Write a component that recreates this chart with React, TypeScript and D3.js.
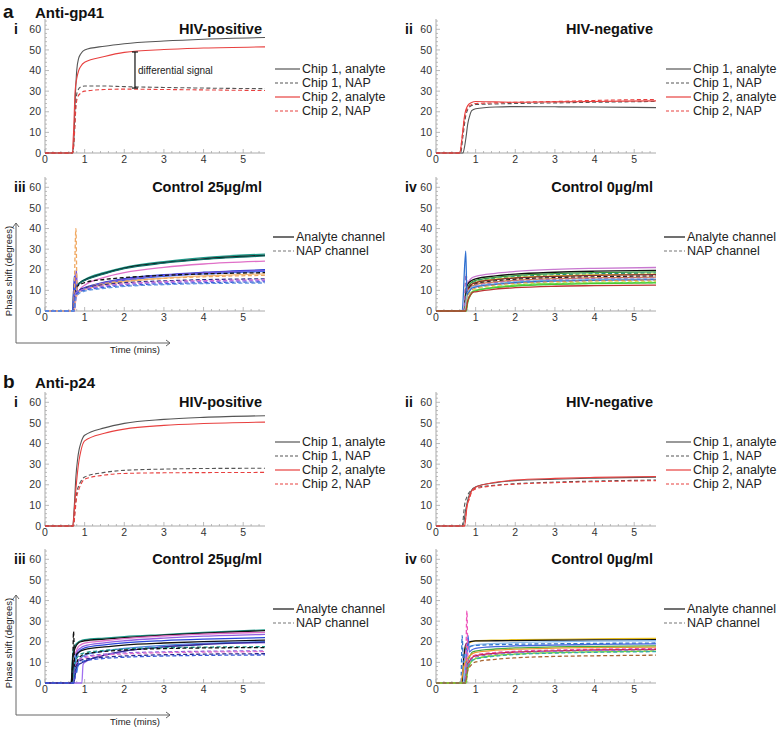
import React from "react";
import * as d3 from "d3";

type Pt = [number, number];
type Ser = [string, number, Pt[], number[]];

// shared time grid for the tail of each curve (minutes)
const TAIL_T = [1, 1.5, 2, 3, 4, 5.55];
const X_TICKS = [0, 1, 2, 3, 4, 5];
const Y_TICKS = [0, 10, 20, 30, 40, 50, 60];
const X_MAX = 5.55;
const Y_MAX = 65;

const GRAY = "#555555";
const RED = "#e8403f";

const HIV_LEGEND = ["Chip 1, analyte", "Chip 1, NAP", "Chip 2, analyte", "Chip 2, NAP"];
const HIV_LEGEND_COLORS = [GRAY, GRAY, RED, RED];
const HIV_LEGEND_DASH = [0, 1, 0, 1];
const CTRL_LEGEND = ["Analyte channel", "NAP channel"];
const CTRL_LEGEND_COLORS = ["#111111", "#777777"];
const CTRL_LEGEND_DASH = [0, 1];

// a-i  Anti-gp41, HIV-positive
const aPos: Ser[] = [
  [GRAY, 0, [[0.68, 0], [0.72, 3], [0.76, 25], [0.8, 40], [0.85, 46], [0.9, 48]], [50, 51.8, 53, 54.3, 55.2, 56]],
  [GRAY, 1, [[0.7, 0], [0.74, 10], [0.78, 25], [0.82, 30], [0.9, 32]], [32.5, 32.5, 32.2, 31.8, 31.5, 31.2]],
  [RED, 0, [[0.68, 0], [0.72, 10], [0.76, 30], [0.8, 36], [0.85, 40], [0.9, 42]], [44, 46.8, 48.8, 50.2, 50.9, 51.5]],
  [RED, 1, [[0.7, 0], [0.74, 8], [0.78, 22], [0.82, 27], [0.9, 29]], [30, 30.8, 31, 30.8, 30.6, 30.3]],
];
// differential signal marker: time, lower, upper
const DIFF_MARK = [2.27, 31.5, 49];

// a-ii  Anti-gp41, HIV-negative
const aNeg: Ser[] = [
  [GRAY, 0, [[0.68, 0], [0.72, 3], [0.76, 8], [0.8, 14], [0.85, 18], [0.9, 20.5]], [21.5, 22.3, 22.5, 22.4, 22.3, 22]],
  [GRAY, 1, [[0.62, 0], [0.68, 8], [0.75, 18], [0.8, 21], [0.9, 23]], [23.5, 23.8, 24, 24.3, 24.6, 25]],
  [RED, 0, [[0.6, 0], [0.65, 6], [0.72, 18], [0.8, 23], [0.9, 24.5]], [25, 24.8, 24.6, 24.8, 25, 25.3]],
  [RED, 1, [[0.6, 0], [0.66, 8], [0.72, 17], [0.8, 22], [0.9, 23.5]], [24, 24.3, 24.6, 25, 25.5, 26]],
];

// a-iii  Anti-gp41, Control 25 µg/ml
const aC25: Ser[] = [
  ["#1d9a8a", 0, [[0.72, 0], [0.76, 9], [0.8, 12], [0.9, 14]], [15.3, 18.7, 21.2, 24, 25.9, 27.6]],
  ["#111111", 0, [[0.7, 0], [0.73, 13], [0.77, 11], [0.85, 13], [0.9, 14]], [15, 18.3, 20.8, 23.5, 25.3, 27]],
  ["#0b6e66", 0, [[0.71, 0], [0.75, 10], [0.8, 12.5], [0.9, 13.8]], [14.8, 18, 20.5, 23.2, 25, 26.7]],
  ["#e070c8", 0, [[0.74, 0], [0.78, 6], [0.84, 9], [0.9, 11]], [12.5, 16.3, 18.6, 21.2, 22.8, 24.2]],
  ["#2a3fd0", 0, [[0.7, 0], [0.74, 17], [0.77, 9], [0.85, 9.5], [0.9, 10.5]], [11.3, 14, 15.7, 17.6, 18.8, 20]],
  ["#7b52d8", 0, [[0.72, 0], [0.79, 20], [0.82, 9], [0.9, 10.5]], [11, 13.7, 15.3, 17.3, 18.5, 19.6]],
  ["#4a66e6", 0, [[0.7, 0], [0.74, 12], [0.8, 9], [0.9, 10]], [10.8, 13.2, 14.8, 16.8, 18, 19.2]],
  ["#f0b878", 0, [[0.73, 0], [0.78, 7], [0.85, 9], [0.9, 10]], [10.5, 12.8, 14.2, 15.9, 17, 18]],
  ["#111111", 1, [[0.72, 0], [0.76, 10], [0.82, 12], [0.9, 13]], [13.8, 15.3, 16.2, 17.3, 18, 18.6]],
  ["#f0a860", 1, [[0.72, 0], [0.78, 40], [0.81, 8], [0.9, 9.5]], [11, 13.3, 14.5, 15.8, 16.6, 17.3]],
  ["#2d2d90", 1, [[0.72, 0], [0.77, 9], [0.85, 10], [0.9, 10.5]], [11.2, 12.8, 13.7, 14.6, 15.2, 15.6]],
  ["#e070c8", 1, [[0.74, 0], [0.79, 8], [0.85, 9], [0.9, 9.8]], [10.5, 12.2, 13.2, 14.2, 14.7, 15.1]],
  ["#9b6ee8", 1, [[0.72, 0], [0.78, 9], [0.85, 9.5], [0.9, 10]], [10.5, 12, 12.9, 13.8, 14.3, 14.7]],
  ["#3a5ad8", 1, [[0.73, 0], [0.78, 8], [0.85, 9], [0.9, 9.5]], [10, 11.5, 12.3, 13.2, 13.7, 14.1]],
  ["#5f95e0", 1, [[0.73, 0], [0.79, 7], [0.86, 8.5], [0.9, 9]], [9.6, 11, 11.9, 12.8, 13.3, 13.6]],
];

// a-iv  Anti-gp41, Control 0 µg/ml
const aC0: Ser[] = [
  ["#c878d0", 0, [[0.72, 0], [0.78, 12], [0.85, 15], [0.9, 16]], [16.8, 18.3, 19.2, 20.2, 20.7, 21.1]],
  ["#111111", 0, [[0.7, 0], [0.76, 11], [0.82, 13.5], [0.9, 14.8]], [15.6, 17, 17.9, 18.8, 19.3, 19.7]],
  ["#3a9a3a", 0, [[0.72, 0], [0.78, 10], [0.85, 13], [0.9, 14]], [14.8, 16.3, 17.2, 18.1, 18.6, 19]],
  ["#1e8a80", 1, [[0.72, 0], [0.78, 9], [0.85, 12.5], [0.9, 13.5]], [14.3, 15.8, 16.6, 17.5, 18, 18.4]],
  ["#dddd33", 0, [[0.73, 0], [0.79, 9], [0.86, 12], [0.9, 13]], [13.9, 15.4, 16.2, 17, 17.5, 17.9]],
  ["#8b2a2a", 0, [[0.72, 0], [0.78, 9], [0.85, 12], [0.9, 13]], [13.8, 15.2, 16, 16.8, 17.3, 17.6]],
  ["#222222", 1, [[0.72, 0], [0.78, 9], [0.85, 11.5], [0.9, 12.5]], [13.2, 14.6, 15.4, 16.2, 16.6, 17]],
  ["#d07a4a", 0, [[0.73, 0], [0.79, 8], [0.86, 11], [0.9, 12]], [12.8, 14.1, 14.9, 15.7, 16.1, 16.4]],
  ["#b060b0", 1, [[0.7, 0], [0.76, 18], [0.8, 8], [0.88, 11], [0.92, 12]], [12.4, 13.7, 14.5, 15.3, 15.7, 16]],
  ["#88c0e8", 0, [[0.72, 0], [0.78, 8], [0.86, 10.5], [0.9, 11.5]], [12, 13.3, 14.1, 14.9, 15.3, 15.6]],
  ["#2e6fd0", 0, [[0.66, 0], [0.75, 29], [0.78, 8], [0.86, 10], [0.9, 11]], [11.6, 12.9, 13.7, 14.5, 14.9, 15.2]],
  ["#cc8866", 1, [[0.74, 0], [0.8, 7], [0.88, 9.5], [0.92, 10.5]], [11, 12.6, 13.4, 14.2, 14.6, 15]],
  ["#e8e060", 1, [[0.74, 0], [0.8, 6], [0.88, 9], [0.92, 10]], [10.6, 12, 12.8, 13.6, 14, 14.3]],
  ["#66dd44", 0, [[0.76, 0], [0.8, 5], [0.88, 8.5], [0.92, 9.5]], [10, 11.6, 12.5, 13.3, 13.6, 13.9]],
  ["#99ddaa", 1, [[0.74, 0], [0.8, 6], [0.88, 8.5], [0.92, 9.5]], [10, 11.4, 12.2, 13, 13.4, 13.7]],
  ["#44cc33", 0, [[0.76, 0], [0.8, 4], [0.88, 8], [0.92, 9]], [9.8, 11.3, 12.1, 12.9, 13.3, 13.6]],
  ["#bb3333", 0, [[0.75, 0], [0.8, 5], [0.88, 8], [0.92, 9]], [9.3, 10.6, 11.3, 12, 12.3, 12.6]],
];

// b-i  Anti-p24, HIV-positive
const bPos: Ser[] = [
  [GRAY, 0, [[0.7, 0], [0.74, 10], [0.78, 24], [0.82, 32], [0.86, 37], [0.9, 40]], [44, 47.6, 49.8, 51.7, 52.7, 53.5]],
  [GRAY, 1, [[0.72, 0], [0.76, 9], [0.8, 16], [0.85, 19.5], [0.9, 21.5]], [23.8, 26, 27, 27.6, 27.9, 28]],
  [RED, 0, [[0.7, 0], [0.74, 8], [0.78, 18], [0.82, 26], [0.86, 32], [0.9, 36]], [41.3, 45, 47, 48.8, 49.7, 50.4]],
  [RED, 1, [[0.72, 0], [0.76, 7], [0.8, 14], [0.85, 17.5], [0.9, 20]], [22.7, 24.7, 25.5, 25.8, 25.9, 26]],
];

// b-ii  Anti-p24, HIV-negative
const bNeg: Ser[] = [
  [GRAY, 0, [[0.68, 0], [0.75, 8], [0.82, 14], [0.9, 17.5]], [19, 21, 22, 22.7, 23.2, 23.7]],
  [GRAY, 1, [[0.66, 0], [0.72, 10], [0.8, 15], [0.9, 17.5]], [18.5, 19.8, 20.5, 21.3, 21.8, 22.3]],
  [RED, 0, [[0.72, 0], [0.78, 9], [0.84, 14], [0.9, 17]], [18.8, 21.2, 22.3, 23.1, 23.6, 24]],
  [RED, 1, [[0.72, 0], [0.78, 10], [0.84, 13], [0.9, 16.5]], [18, 19.6, 20.3, 21, 21.5, 22]],
];

// b-iii  Anti-p24, Control 25 µg/ml
const bC25: Ser[] = [
  ["#1d9a8a", 0, [[0.66, 0], [0.7, 14], [0.75, 18], [0.85, 20], [0.9, 20.5]], [21, 21.8, 22.5, 23.5, 24.5, 25.8]],
  ["#111111", 0, [[0.66, 0], [0.7, 12], [0.76, 17], [0.85, 19.5], [0.9, 20]], [20.5, 21.3, 22, 23.2, 24.2, 25.4]],
  ["#e070c8", 0, [[0.7, 0], [0.75, 12], [0.82, 17], [0.9, 18.5]], [19.3, 20.5, 21.5, 22.8, 23.7, 24.6]],
  ["#9060e0", 0, [[0.7, 0], [0.76, 12], [0.84, 16], [0.9, 17]], [18, 19.5, 20.5, 21.8, 22.7, 23.6]],
  ["#2a45d8", 0, [[0.72, 0], [0.78, 12], [0.84, 14.5], [0.9, 16]], [17, 18.5, 19.5, 20.6, 21.3, 22]],
  ["#111111", 0, [[0.68, 0], [0.73, 10], [0.8, 14], [0.9, 15.5]], [16.2, 17.5, 18.4, 19.4, 20.1, 20.8]],
  ["#4a88e0", 0, [[0.72, 0], [0.76, 14], [0.8, 5], [0.84, 10], [0.9, 12]], [13.5, 15.5, 16.8, 18.3, 19.2, 20]],
  ["#a070f0", 0, [[0.93, 0], [0.96, 9]], [10, 13.5, 15.5, 17.5, 18.8, 19.5]],
  ["#2a2a90", 0, [[0.72, 0], [0.8, 8], [0.85, 9], [0.9, 9.5]], [10.5, 13.5, 15.5, 17.5, 18.7, 19.8]],
  ["#1d9a8a", 1, [[0.7, 0], [0.76, 10], [0.84, 13], [0.9, 14]], [14.6, 15.8, 16.5, 17.1, 17.4, 17.6]],
  ["#111111", 1, [[0.66, 0], [0.7, 10], [0.72, 25], [0.75, 8], [0.85, 12], [0.9, 13]], [14, 15.3, 16, 16.7, 17, 17.2]],
  ["#9060e0", 1, [[0.72, 0], [0.78, 9], [0.85, 11], [0.9, 12]], [12.8, 14, 14.6, 15.1, 15.4, 15.6]],
  ["#e070c8", 1, [[0.72, 0], [0.78, 8], [0.85, 10.5], [0.9, 11.5]], [12.3, 13.5, 14.1, 14.7, 15, 15.2]],
  ["#2a2a90", 1, [[0.72, 0], [0.78, 8], [0.85, 10], [0.9, 11]], [11.5, 12.5, 13.1, 13.7, 14, 14.2]],
  ["#3a5ad8", 1, [[0.72, 0], [0.8, 7], [0.86, 9], [0.9, 10]], [10.8, 11.9, 12.5, 13.1, 13.4, 13.6]],
];

// b-iv  Anti-p24, Control 0 µg/ml
const bC0: Ser[] = [
  ["#e8c020", 0, [[0.66, 0], [0.72, 14], [0.8, 19], [0.9, 20]], [20.4, 20.8, 21, 21.2, 21.4, 21.6]],
  ["#111111", 0, [[0.66, 0], [0.7, 12], [0.76, 19], [0.85, 20], [0.9, 20.2]], [20.4, 20.5, 20.6, 20.8, 20.9, 21]],
  ["#88bbee", 0, [[0.68, 0], [0.74, 12], [0.82, 17], [0.9, 18]], [18.5, 19.2, 19.6, 20, 20.3, 20.5]],
  ["#3377cc", 1, [[0.63, 0], [0.66, 23], [0.69, 10], [0.75, 16], [0.85, 17.5], [0.9, 18]], [18.2, 18.6, 18.8, 19, 19.2, 19.4]],
  ["#4466dd", 0, [[0.7, 0], [0.78, 14], [0.81, 23], [0.84, 15], [0.9, 16]], [16.8, 17.6, 18, 18.4, 18.7, 19]],
  ["#44aa44", 0, [[0.72, 0], [0.8, 10], [0.88, 14], [0.92, 15]], [15.5, 16.5, 17, 17.5, 17.8, 18]],
  ["#e89a30", 0, [[0.62, 0], [0.7, 8], [0.8, 12], [0.9, 14]], [14.8, 15.9, 16.4, 16.9, 17.2, 17.4]],
  ["#ee55bb", 1, [[0.74, 0], [0.78, 35], [0.81, 8], [0.88, 12], [0.92, 13]], [13.6, 14.8, 15.4, 16, 16.4, 16.7]],
  ["#cc2244", 0, [[0.74, 0], [0.8, 8], [0.88, 11.5], [0.92, 12.5]], [13.2, 14.4, 15, 15.6, 16, 16.3]],
  ["#9966cc", 1, [[0.74, 0], [0.8, 8], [0.88, 11], [0.92, 12]], [12.6, 13.9, 14.6, 15.3, 15.7, 16]],
  ["#77dd33", 0, [[0.76, 0], [0.8, 6], [0.88, 10], [0.92, 11]], [11.8, 13.3, 14, 14.7, 15.1, 15.5]],
  ["#33aaaa", 1, [[0.74, 0], [0.8, 7], [0.88, 10], [0.92, 11]], [11.6, 13, 13.8, 14.5, 14.9, 15.2]],
  ["#aa6633", 1, [[0.74, 0], [0.8, 6], [0.88, 8.5], [0.92, 9.5]], [10.2, 11.5, 12.2, 12.9, 13.2, 13.5]],
];

const W = 220;
const H = 134;
const FONT = "'Liberation Sans', Arial, Helvetica, sans-serif";

const xs = d3.scaleLinear().domain([0, X_MAX]).range([0, W]);
const ys = d3.scaleLinear().domain([0, Y_MAX]).range([0, -H]);

const lineGen = d3
  .line<Pt>()
  .x((d) => xs(d[0]))
  .y((d) => ys(d[1]))
  .curve(d3.curveMonotoneX);

function seriesPoints(s: Ser): Pt[] {
  const tail: Pt[] = TAIL_T.map((t, i) => [t, s[3][i]] as Pt);
  return [[0, 0] as Pt, ...s[2], ...tail];
}

function Axes() {
  const yMinor = d3.range(0, Y_MAX + 0.01, 2);
  const xMinor = d3.range(0, X_MAX, 0.2);
  return (
    <g>
      <line x1={0} y1={0} x2={0} y2={-H} stroke="#aaaaaa" strokeWidth={1} />
      <line x1={0} y1={0} x2={W} y2={0} stroke="#aaaaaa" strokeWidth={1} />
      {yMinor.map((v) => (
        <line key={"ym" + v} x1={0} x2={v % 10 === 0 ? 4 : 2} y1={ys(v)} y2={ys(v)} stroke="#aaaaaa" strokeWidth={0.8} />
      ))}
      {xMinor.map((v, i) => (
        <line key={"xm" + i} y1={0} y2={i % 5 === 0 ? -4 : -2} x1={xs(v)} x2={xs(v)} stroke="#aaaaaa" strokeWidth={0.8} />
      ))}
      {Y_TICKS.map((v) => (
        <text key={"yl" + v} x={-4} y={ys(v) + 3.7} textAnchor="end" fontSize={10.5} fill="#333" fontFamily={FONT}>
          {v}
        </text>
      ))}
      {X_TICKS.map((v) => (
        <text key={"xl" + v} x={xs(v)} y={10} textAnchor="middle" fontSize={10.5} fill="#333" fontFamily={FONT}>
          {v}
        </text>
      ))}
    </g>
  );
}

function Panel(props: {
  x0: number;
  base: number;
  series: Ser[];
  title: string;
  roman: string;
  ctrl: boolean;
  diff?: boolean;
}) {
  const { x0, base, series, title, roman, ctrl, diff } = props;
  const labels = ctrl ? CTRL_LEGEND : HIV_LEGEND;
  const colors = ctrl ? CTRL_LEGEND_COLORS : HIV_LEGEND_COLORS;
  const dashes = ctrl ? CTRL_LEGEND_DASH : HIV_LEGEND_DASH;
  const rowY = ctrl ? [-74, -60] : [-84, -70, -56, -42];
  const lx1 = ctrl ? 228 : 230;
  const lx2 = ctrl ? 249 : 255;
  return (
    <g transform={`translate(${x0},${base})`}>
      <Axes />
      {series.map((s, i) => (
        <path
          key={i}
          d={lineGen(seriesPoints(s)) || ""}
          fill="none"
          stroke={s[0]}
          strokeWidth={ctrl ? 1.3 : 1.1}
          strokeDasharray={s[1] ? "4,2.5" : undefined}
        />
      ))}
      {diff && (
        <g stroke="#111" strokeWidth={1.2}>
          <line x1={xs(DIFF_MARK[0])} x2={xs(DIFF_MARK[0])} y1={ys(DIFF_MARK[1])} y2={ys(DIFF_MARK[2])} />
          <line x1={xs(DIFF_MARK[0]) - 3} x2={xs(DIFF_MARK[0]) + 3} y1={ys(DIFF_MARK[1])} y2={ys(DIFF_MARK[1])} />
          <line x1={xs(DIFF_MARK[0]) - 3} x2={xs(DIFF_MARK[0]) + 3} y1={ys(DIFF_MARK[2])} y2={ys(DIFF_MARK[2])} />
        </g>
      )}
      {diff && (
        <text
          x={xs(DIFF_MARK[0]) + 3}
          y={ys((DIFF_MARK[1] + DIFF_MARK[2]) / 2) + 3.5}
          fontSize={10}
          fill="#222"
          fontFamily={FONT}
        >
          differential signal
        </text>
      )}
      <text x={W - 3} y={-119} textAnchor="end" fontSize={14.5} fontWeight="bold" fill="#111" fontFamily={FONT}>
        {title}
      </text>
      <text x={-31} y={-119} fontSize={14} fontWeight="bold" fill="#111" fontFamily={FONT}>
        {roman}
      </text>
      {labels.map((lab, i) => (
        <g key={lab}>
          <line
            x1={lx1}
            x2={lx2}
            y1={rowY[i]}
            y2={rowY[i]}
            stroke={colors[i]}
            strokeWidth={1.2}
            strokeDasharray={dashes[i] ? "3,2" : undefined}
          />
          <text x={lx2 + 2} y={rowY[i] + 4.3} fontSize={12.5} fill="#222" fontFamily={FONT}>
            {lab}
          </text>
        </g>
      ))}
    </g>
  );
}

function AxisArrows(props: { base: number }) {
  const b = props.base;
  return (
    <g stroke="#666" strokeWidth={1} fill="none">
      <line x1={16} y1={b - 88} x2={16} y2={b + 32} />
      <polyline points={`13,${b - 84} 16,${b - 88} 19,${b - 84}`} />
      <line x1={16} y1={b + 32} x2={170} y2={b + 32} />
      <polyline points={`166,${b + 29} 170,${b + 32} 166,${b + 35}`} />
      <text
        x={0}
        y={0}
        transform={`translate(12,${b - 40}) rotate(-90)`}
        textAnchor="middle"
        fontSize={9.5}
        fill="#222"
        stroke="none"
        fontFamily={FONT}
      >
        Phase shift (degrees)
      </text>
      <text x={135} y={b + 42} textAnchor="middle" fontSize={9.5} fill="#222" stroke="none" fontFamily={FONT}>
        Time (mins)
      </text>
    </g>
  );
}

export default function App() {
  const L = 45;
  const R = 436;
  const rows = [153, 311, 526, 683];
  return (
    <svg width={780} height={729} style={{ position: "absolute", left: 0, top: 0, background: "#fff" }}>
      <rect width={780} height={729} fill="#fff" />
      <text x={3} y={18} fontSize={19} fontWeight="bold" fill="#111" fontFamily={FONT}>a</text>
      <text x={35} y={18} fontSize={15} fontWeight="bold" fill="#111" fontFamily={FONT}>Anti-gp41</text>
      <text x={3} y={388} fontSize={19} fontWeight="bold" fill="#111" fontFamily={FONT}>b</text>
      <text x={35} y={388} fontSize={15} fontWeight="bold" fill="#111" fontFamily={FONT}>Anti-p24</text>

      <Panel x0={L} base={rows[0]} series={aPos} title="HIV-positive" roman="i" ctrl={false} diff />
      <Panel x0={R} base={rows[0]} series={aNeg} title="HIV-negative" roman="ii" ctrl={false} />
      <Panel x0={L} base={rows[1]} series={aC25} title="Control 25µg/ml" roman="iii" ctrl />
      <Panel x0={R} base={rows[1]} series={aC0} title="Control 0µg/ml" roman="iv" ctrl />
      <AxisArrows base={rows[1]} />

      <Panel x0={L} base={rows[2]} series={bPos} title="HIV-positive" roman="i" ctrl={false} />
      <Panel x0={R} base={rows[2]} series={bNeg} title="HIV-negative" roman="ii" ctrl={false} />
      <Panel x0={L} base={rows[3]} series={bC25} title="Control 25µg/ml" roman="iii" ctrl />
      <Panel x0={R} base={rows[3]} series={bC0} title="Control 0µg/ml" roman="iv" ctrl />
      <AxisArrows base={rows[3]} />
    </svg>
  );
}
